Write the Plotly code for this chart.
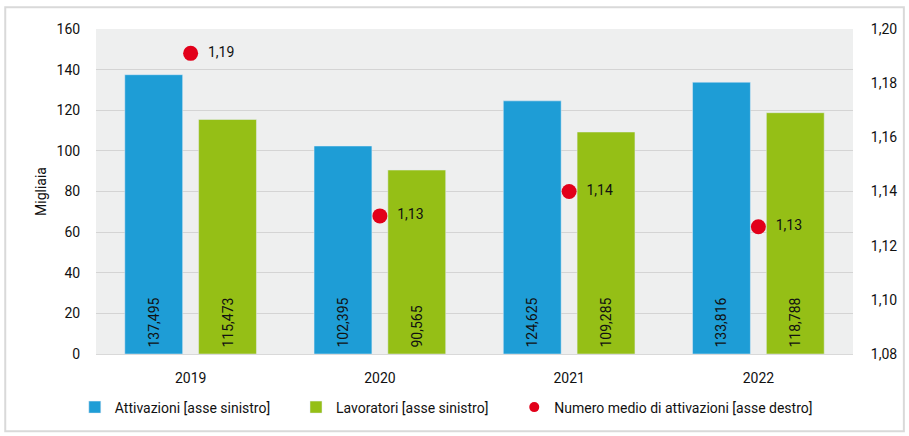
import plotly.graph_objects as go

years = ["2019", "2020", "2021", "2022"]
attivazioni = [137.495, 102.395, 124.625, 133.816]
lavoratori = [115.473, 90.565, 109.285, 118.788]
att_labels = ["137,495", "102,395", "124,625", "133,816"]
lav_labels = ["115,473", "90,565", "109,285", "118,788"]
media = [1.191, 1.131, 1.140, 1.127]
media_labels = ["1,19", "1,13", "1,14", "1,13"]
series_names = ["Attivazioni [asse sinistro]", "Lavoratori [asse sinistro]",
                "Numero medio di attivazioni [asse destro]"]

BLUE = "#1e9dd6"
GREEN = "#95bf16"
RED = "#e2001a"
FONT = "Roboto"
PAD = "\u00a0"
LEGPAD = PAD * 6

ML, MR, MT, MB = 96, 54, 29, 79
PH = 436 - MT - MB
PW = 909 - ML - MR

fig = go.Figure()
fig.add_trace(go.Bar(
    x=years, y=attivazioni, name=series_names[0] + LEGPAD,
    marker_color=BLUE, text=[PAD + t for t in att_labels], textposition="inside",
    insidetextanchor="start", textangle=-90,
    textfont=dict(color="#111", size=14, family=FONT)))
fig.add_trace(go.Bar(
    x=years, y=lavoratori, name=series_names[1] + LEGPAD,
    marker_color=GREEN, text=[PAD + t for t in lav_labels], textposition="inside",
    insidetextanchor="start", textangle=-90,
    textfont=dict(color="#111", size=14, family=FONT)))
fig.add_trace(go.Scatter(
    x=years, y=media, name=series_names[2],
    mode="markers+text", marker=dict(color=RED, size=15), yaxis="y2",
    text=[PAD * 2 + t for t in media_labels], textposition="middle right",
    textfont=dict(size=14, color="#111", family=FONT),
    showlegend=False))
# legend-only entry with smaller dot
fig.add_trace(go.Scatter(
    x=[years[0]], y=[None], name=series_names[2],
    mode="markers", marker=dict(color=RED, size=10), yaxis="y2"))

# outer border
bottom_px = 436 - MB
fig.add_shape(type="rect", xref="paper", yref="paper",
              x0=(5 - ML) / PW, x1=(906 - ML) / PW,
              y0=(bottom_px - 435) / PH, y1=(bottom_px - 7) / PH,
              line=dict(color="#d9d9d9", width=2), layer="below")

fig.update_layout(
    width=909, height=436,
    margin=dict(l=ML, r=MR, t=MT, b=MB),
    paper_bgcolor="white", plot_bgcolor="#eeefef",
    separators=",.",
    font=dict(family=FONT, size=14, color="#222"),
    barmode="group", bargap=0.22, bargroupgap=0.216,
    showlegend=True,
    legend=dict(orientation="h", x=-0.028, xanchor="left",
                y=(bottom_px - 411) / PH, yanchor="middle",
                font=dict(size=14, family=FONT, color="#111"),
                itemwidth=30, traceorder="normal"),
    xaxis=dict(type="category", categoryorder="array", categoryarray=years,
               range=[-0.5, 3.5], showgrid=False, ticks="outside", ticklen=11,
               tickcolor="rgba(0,0,0,0)", showline=True, linecolor="#d9d9d9",
               tickfont=dict(size=14, color="#111")),
    yaxis=dict(range=[0, 160], dtick=20, showgrid=True, gridcolor="#d4d4d4",
               gridwidth=1, zeroline=False, ticks="outside", ticklen=12,
               tickcolor="rgba(0,0,0,0)",
               tickfont=dict(size=14, color="#111"),
               title=dict(text="Migliaia", standoff=6,
                          font=dict(size=14, color="#111"))),
    yaxis2=dict(range=[1.08, 1.20], dtick=0.02, tickformat=".2f",
                overlaying="y", side="right", showgrid=False, zeroline=False,
                ticks="outside", ticklen=14, tickcolor="rgba(0,0,0,0)",
                tickfont=dict(size=14, color="#111")),
)

fig.write_html("out.html")
